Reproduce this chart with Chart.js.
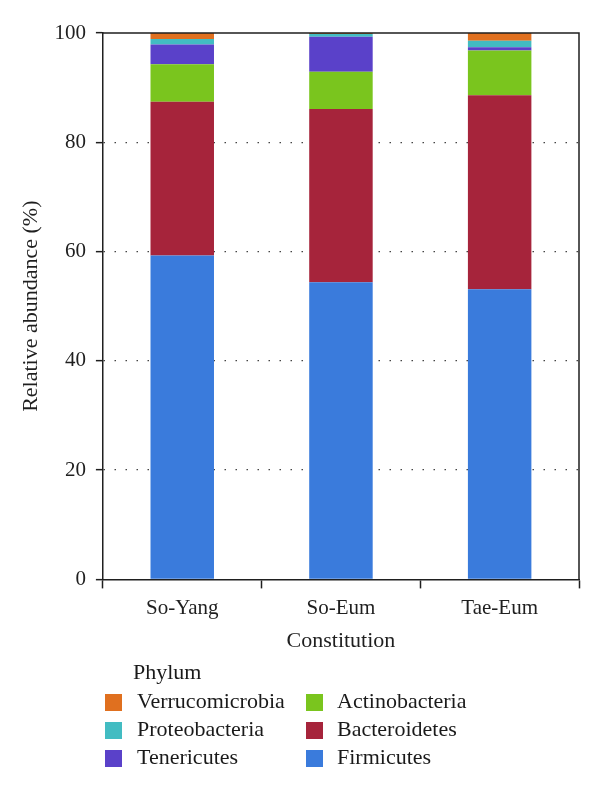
<!DOCTYPE html>
<html><head><meta charset="utf-8">
<script src="https://cdn.jsdelivr.net/npm/chart.js@4"></script>
<style>
html,body{margin:0;padding:0;background:#fff;}
#wrap{position:relative;width:600px;height:794px;}
#legend{position:absolute;left:0;top:0;width:600px;height:794px;font-family:"Liberation Serif",serif;font-size:22px;color:#1a1a1a;pointer-events:none;}
.lg-title{position:absolute;line-height:24px;}
.lg-item{position:absolute;line-height:24px;white-space:nowrap;}
.lg-box{position:absolute;width:17px;height:17px;}
</style></head><body>
<div id="wrap"><canvas id="c" width="600" height="794"></canvas><div id="legend"></div></div>
<script>
const categories = ["So-Yang", "So-Eum", "Tae-Eum"];
const firmicutes      = [59.3, 54.4, 53.1];
const bacteroidetes   = [28.1, 31.7, 35.5];
const actinobacteria  = [6.9, 6.8, 8.2];
const tenericutes     = [3.6, 6.4, 0.6];
const proteobacteria  = [1.0, 0.5, 1.2];
const verrucomicrobia = [1.1, 0.2, 1.4];
const yTicks = [0, 20, 40, 60, 80, 100];

const series = [
  {label: "Firmicutes", data: firmicutes, color: "#3a7bdc"},
  {label: "Bacteroidetes", data: bacteroidetes, color: "#a6243b"},
  {label: "Actinobacteria", data: actinobacteria, color: "#7ac51e"},
  {label: "Tenericutes", data: tenericutes, color: "#5a41c9"},
  {label: "Proteobacteria", data: proteobacteria, color: "#42bcc2"},
  {label: "Verrucomicrobia", data: verrucomicrobia, color: "#e0701f"}
];

const FONT = "'Liberation Serif', serif";
const INK = "#1f1f1f";

const framePlugin = {
  id: "frame",
  afterDraw(chart) {
    const a = chart.chartArea, ctx = chart.ctx;
    ctx.save();
    ctx.strokeStyle = INK;
    ctx.lineWidth = 1.5;
    ctx.setLineDash([]);
    ctx.beginPath();
    ctx.moveTo(a.left, a.top);
    ctx.lineTo(a.right, a.top);
    ctx.lineTo(a.right, a.bottom);
    ctx.stroke();
    ctx.restore();
  }
};

new Chart(document.getElementById("c"), {
  type: "bar",
  data: {
    labels: categories,
    datasets: series.map(s => ({
      label: s.label, data: s.data, backgroundColor: s.color,
      borderWidth: 0, barPercentage: 0.4, categoryPercentage: 1.0
    }))
  },
  options: {
    responsive: false,
    animation: false,
    layout: {padding: {top: 33, right: 21, left: 18, bottom: 140}},
    plugins: {legend: {display: false}, tooltip: {enabled: false}},
    scales: {
      x: {
        stacked: true,
        offset: true,
        grid: {offset: true, drawOnChartArea: false, drawTicks: true, tickLength: 9, tickColor: INK, tickWidth: 1.5},
        border: {display: true, color: INK, width: 1.5},
        ticks: {color: INK, font: {family: FONT, size: 21}, padding: 7},
        title: {display: true, text: "Constitution", color: INK, font: {family: FONT, size: 22}, padding: {top: 0, bottom: 0}}
      },
      y: {
        stacked: true,
        min: 0, max: 100,
        afterBuildTicks(scale) { scale.ticks = yTicks.map(v => ({value: v})); },
        grid: {
          color: ctx => (ctx.tick && (ctx.tick.value === 0 || ctx.tick.value === 100)) ? "rgba(0,0,0,0)" : "#444",
          lineWidth: 1.3,
          tickBorderDash: [100, 0],
          tickColor: INK, tickWidth: 1.5, tickLength: 7
        },
        border: {display: true, color: INK, width: 1.5, dash: [1.5, 9.5]},
        ticks: {color: INK, font: {family: FONT, size: 21}, padding: 10},
        title: {display: true, text: "Relative abundance (%)", color: INK, font: {family: FONT, size: 22}, padding: {top: 0, bottom: 0}}
      }
    }
  },
  plugins: [framePlugin]
});

// Legend (HTML text)
const legend = document.getElementById("legend");
const t = document.createElement("div");
t.className = "lg-title"; t.textContent = "Phylum";
t.style.left = "133px"; t.style.top = "660px";
legend.appendChild(t);
const order = ["Verrucomicrobia", "Proteobacteria", "Tenericutes", "Actinobacteria", "Bacteroidetes", "Firmicutes"];
order.forEach((name, i) => {
  const s = series.find(q => q.label === name);
  const col = Math.floor(i / 3), row = i % 3;
  const cy = 702 + row * 28;
  const bx = col === 0 ? 105 : 306;
  const tx = col === 0 ? 137 : 337;
  const box = document.createElement("div");
  box.className = "lg-box"; box.style.background = s.color;
  box.style.left = bx + "px"; box.style.top = (cy - 8) + "px";
  legend.appendChild(box);
  const txt = document.createElement("div");
  txt.className = "lg-item"; txt.textContent = name;
  txt.style.left = tx + "px"; txt.style.top = (cy - 13) + "px";
  legend.appendChild(txt);
});
</script>
</body></html>
